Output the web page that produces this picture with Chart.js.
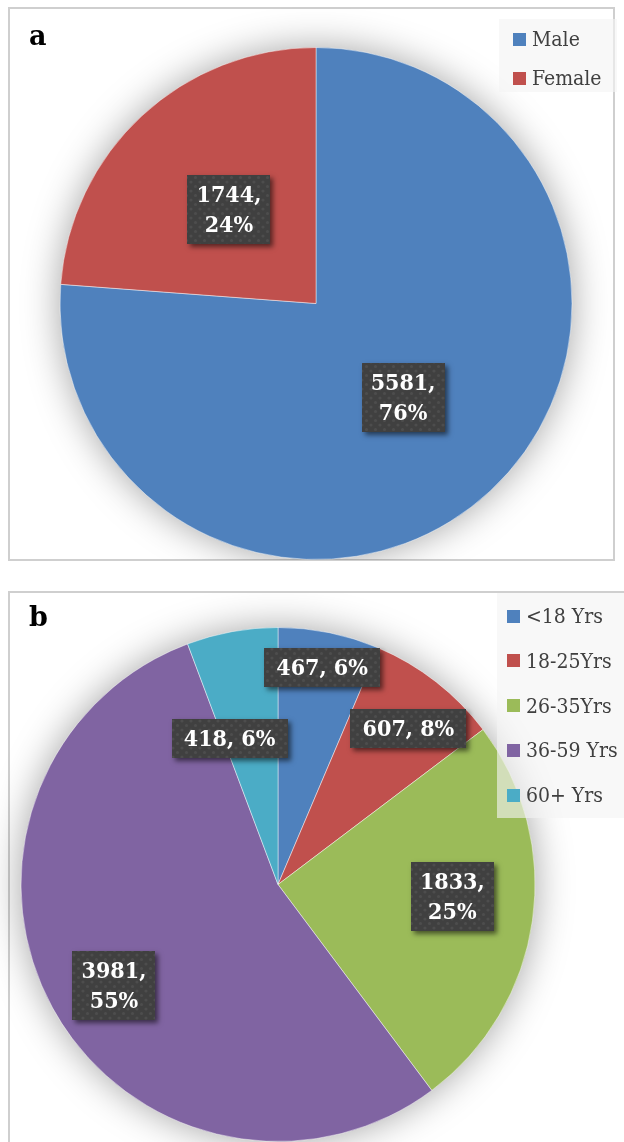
<!DOCTYPE html>
<html>
<head>
<meta charset="utf-8">
<script src="https://cdn.jsdelivr.net/npm/chart.js@4/dist/chart.umd.min.js"></script>
<style>
  html, body { margin: 0; padding: 0; background: #fff; width: 624px; height: 1142px; overflow: hidden; position: relative; }
  .panel { position: absolute; box-sizing: border-box; border: 2px solid #cfcfcf; background: #fff; overflow: hidden; }
  #panelA { left: 8px; top: 7px; width: 607px; height: 554px; }
  #panelB { left: 8px; top: 591px; width: 640px; height: 600px; }
  canvas { position: absolute; }
  .tag { position: absolute; font: bold 27px "DejaVu Serif", serif; color: #000; }
  .legend { position: absolute; background: rgba(244,244,244,0.62); font: 21px "DejaVu Serif Condensed", "DejaVu Serif", serif; color: #404040; }
  .legend .item { position: absolute; white-space: nowrap; display: flex; align-items: center; }
  .legend .sw { display: inline-block; width: 13px; height: 13px; margin-right: 6px; }
</style>
</head>
<body>
<div class="panel" id="panelA"></div>
<div class="panel" id="panelB"></div>
<canvas id="chartA" width="624" height="560" style="left:0;top:0;width:624px;height:560px"></canvas>
<canvas id="chartB" width="624" height="549" style="left:0;top:593px;width:624px;height:549px"></canvas>
<div class="tag" style="left:29px;top:20px">a</div>
<div class="tag" style="left:29px;top:601px">b</div>
<div class="legend" id="legendA" style="left:499px;top:19px;width:118px;height:73px"></div>
<div class="legend" id="legendB" style="left:497px;top:593px;width:140px;height:225px"></div>
<script>
// ---- data ----
const genderLabels = ['Male', 'Female'];
const genderValues = [5581, 1744];
const genderPct = [76, 24];

const ageLabels = ['<18 Yrs', '18-25Yrs', '26-35Yrs', '36-59 Yrs', '60+ Yrs'];
const ageValues = [467, 607, 1833, 3981, 418];
const agePct = [6, 8, 25, 55, 6];

const genderColors = ['#4F81BD', '#C0504D'];
const ageColors = ['#4F81BD', '#C0504D', '#9BBB59', '#8064A2', '#4BACC6'];

// ---- helpers ----
function makePattern() {
  const c = document.createElement('canvas');
  c.width = 9; c.height = 9;
  const g = c.getContext('2d');
  g.fillStyle = '#404040';
  g.fillRect(0, 0, 9, 9);
  g.fillStyle = 'rgba(255,255,255,0.07)';
  g.beginPath(); g.arc(2, 2, 1.6, 0, Math.PI * 2); g.fill();
  g.beginPath(); g.arc(6.5, 6.5, 1.6, 0, Math.PI * 2); g.fill();
  return c;
}

const shadowPlugin = {
  id: 'pieShadow',
  beforeDatasetsDraw(chart) {
    const arc = chart.getDatasetMeta(0).data[0];
    if (!arc) return;
    const p = arc.getProps(['x', 'y', 'outerRadius'], true);
    const ctx = chart.ctx;
    ctx.save();
    ctx.shadowColor = 'rgba(0,0,0,0.38)';
    ctx.shadowBlur = 38;
    ctx.fillStyle = '#ffffff';
    ctx.beginPath();
    ctx.arc(p.x, p.y, p.outerRadius - 1, 0, Math.PI * 2);
    ctx.fill();
    ctx.restore();
  }
};

function labelPlugin(values, pcts, layout) {
  return {
    id: 'boxLabels',
    afterDatasetsDraw(chart) {
      const ctx = chart.ctx;
      const meta = chart.getDatasetMeta(0);
      const pattern = ctx.createPattern(makePattern(), 'repeat');
      const font = 'bold 23px "DejaVu Serif Condensed", "DejaVu Serif", serif';
      const lineH = 30, padX = 9, padY = 5;
      meta.data.forEach((arc, i) => {
        const p = arc.getProps(['x', 'y', 'startAngle', 'endAngle', 'outerRadius'], true);
        const mid = (p.startAngle + p.endAngle) / 2 + layout.shift[i] * Math.PI / 180;
        const r = p.outerRadius * layout.radial[i];
        const cx = p.x + Math.cos(mid) * r;
        const cy = p.y + Math.sin(mid) * r;
        const lines = layout.wrap[i]
          ? [values[i] + ',', pcts[i] + '%']
          : [values[i] + ', ' + pcts[i] + '%'];
        ctx.save();
        ctx.font = font;
        const tw = Math.max(...lines.map(l => ctx.measureText(l).width));
        const w = Math.round(tw + padX * 2 + (lines.length === 1 ? 6 : 0));
        const h = Math.round(lines.length * lineH + padY * 2 - 1);
        const x0 = Math.round(cx - w / 2), y0 = Math.round(cy - h / 2);
        ctx.shadowColor = 'rgba(0,0,0,0.55)';
        ctx.shadowBlur = 5;
        ctx.shadowOffsetX = 3;
        ctx.shadowOffsetY = 3;
        ctx.fillStyle = '#404040';
        ctx.fillRect(x0, y0, w, h);
        ctx.shadowColor = 'transparent';
        ctx.fillStyle = pattern;
        ctx.fillRect(x0, y0, w, h);
        ctx.fillStyle = '#ffffff';
        ctx.textAlign = 'center';
        ctx.textBaseline = 'middle';
        lines.forEach((l, k) => {
          ctx.fillText(l, cx, y0 + padY + lineH * k + lineH / 2 + 1);
        });
        ctx.restore();
      });
    }
  };
}

function buildLegend(el, labels, colors, rows) {
  labels.forEach((lab, i) => {
    const d = document.createElement('div');
    d.className = 'item';
    d.style.left = rows.left + 'px';
    d.style.top = (rows.first + rows.step * i - 12) + 'px';
    d.style.height = '24px';
    const sw = document.createElement('span');
    sw.className = 'sw';
    sw.style.background = colors[i];
    const t = document.createElement('span');
    t.textContent = lab;
    d.appendChild(sw);
    d.appendChild(t);
    el.appendChild(d);
  });
}

function pieConfig(labels, values, colors, padding, plugins) {
  return {
    type: 'pie',
    data: {
      labels: labels,
      datasets: [{
        data: values,
        backgroundColor: colors,
        borderColor: 'rgba(255,255,255,0.45)',
        borderWidth: 1
      }]
    },
    options: {
      responsive: false,
      animation: false,
      devicePixelRatio: 1,
      layout: { padding: padding },
      plugins: { legend: { display: false }, tooltip: { enabled: false } }
    },
    plugins: plugins
  };
}

new Chart(document.getElementById('chartA'), pieConfig(
  genderLabels, genderValues, genderColors,
  { left: 59, right: 51, top: 47, bottom: 0 },
  [shadowPlugin, labelPlugin(genderValues, genderPct, {
    radial: [0.5, 0.5], shift: [0, 0], wrap: [true, true]
  })]
));

new Chart(document.getElementById('chartB'), pieConfig(
  ageLabels, ageValues, ageColors,
  { left: 20, right: 88, top: 34, bottom: 0 },
  [shadowPlugin, labelPlugin(ageValues, agePct, {
    radial: [0.86, 0.79, 0.68, 0.75, 0.6],
    shift: [0, 2, -4, -3, -8],
    wrap: [false, false, true, true, false]
  })]
));

buildLegend(document.getElementById('legendA'), genderLabels, genderColors, { left: 14, first: 20, step: 39 });
buildLegend(document.getElementById('legendB'), ageLabels, ageColors, { left: 10, first: 23, step: 44.8 });
</script>
</body>
</html>
